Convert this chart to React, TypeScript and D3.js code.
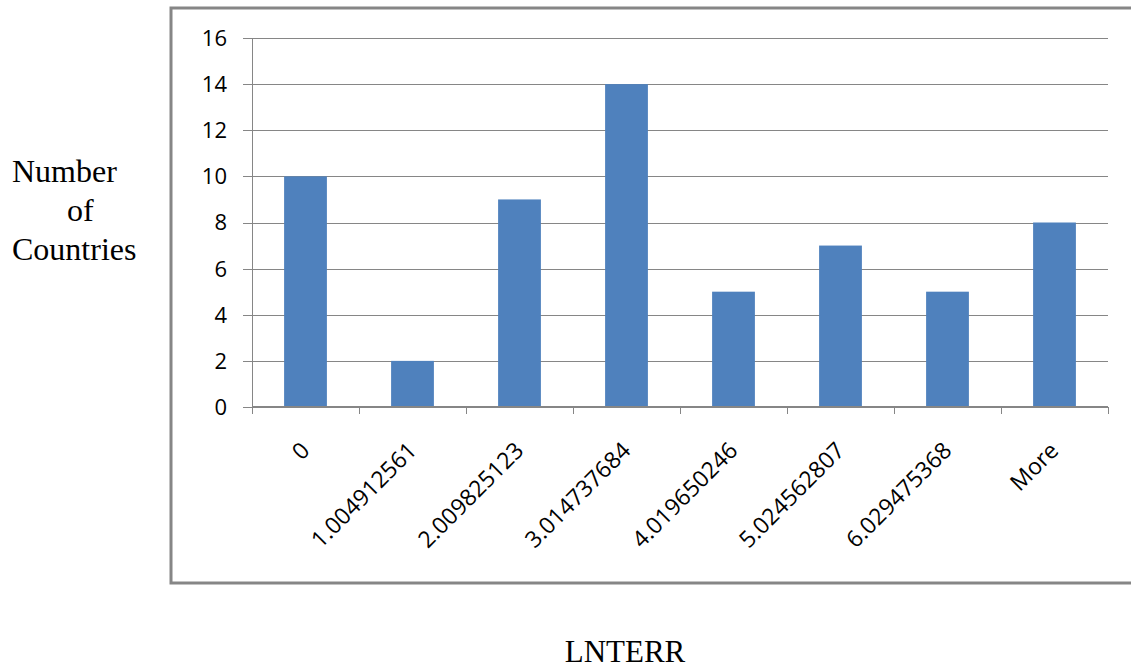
import React from "react";
import * as d3 from "d3";

// Histogram bins (upper bin edges) and the number of countries in each
const binLabels = [
  "0",
  "1.004912561",
  "2.009825123",
  "3.014737684",
  "4.019650246",
  "5.024562807",
  "6.029475368",
  "More",
];
const countryCounts = [10, 2, 9, 14, 5, 7, 5, 8];
const yTickValues = [0, 2, 4, 6, 8, 10, 12, 14, 16];

const W = 1131;
const H = 667;
const plot = { left: 252, right: 1108, top: 38, bottom: 407 };
const gridGray = "#868686";
const barBlue = "#4F81BD";
const tickFont = "'Open Sans', 'Liberation Sans', sans-serif";
const titleFont = "'Liberation Serif', 'Times New Roman', serif";

export default function App() {
  const x = d3
    .scaleBand<string>()
    .domain(binLabels)
    .range([plot.left, plot.right])
    .paddingInner(0.6)
    .paddingOuter(0.3);
  const y = d3.scaleLinear().domain([0, 16]).range([plot.bottom, plot.top]);
  const step = x.step();
  const boundaries = d3.range(binLabels.length + 1).map((i) => plot.left + i * step);

  return (
    <svg
      width={W}
      height={H}
      style={{ position: "absolute", left: 0, top: 0, display: "block", background: "#fff" }}
    >
      {/* chart frame */}
      <rect x={171} y={8} width={1000} height={575} fill="none" stroke={gridGray} strokeWidth={3} />

      {/* horizontal gridlines */}
      {yTickValues.map((v) => (
        <line
          key={"g" + v}
          x1={243}
          x2={plot.right}
          y1={Math.round(y(v)) + 0.5}
          y2={Math.round(y(v)) + 0.5}
          stroke={gridGray}
          strokeWidth={1}
        />
      ))}

      {/* bars */}
      {binLabels.map((b, i) => (
        <rect
          key={"b" + b}
          x={x(b)}
          y={y(countryCounts[i])}
          width={x.bandwidth()}
          height={y(0) - y(countryCounts[i])}
          fill={barBlue}
        />
      ))}

      {/* y axis line */}
      <line x1={plot.left + 0.5} x2={plot.left + 0.5} y1={plot.top} y2={plot.bottom + 7} stroke={gridGray} strokeWidth={1} />

      {/* x axis line and tick marks */}
      <line x1={plot.left} x2={plot.right} y1={plot.bottom} y2={plot.bottom} stroke={gridGray} strokeWidth={2} />
      {boundaries.map((bx, i) => (
        <line
          key={"t" + i}
          x1={Math.round(bx) + 0.5}
          x2={Math.round(bx) + 0.5}
          y1={plot.bottom}
          y2={plot.bottom + 7}
          stroke={gridGray}
          strokeWidth={1}
        />
      ))}

      {/* y tick labels */}
      {yTickValues.map((v) => (
        <text
          key={"yl" + v}
          x={227}
          y={y(v)}
          dy="0.36em"
          textAnchor="end"
          fontFamily={tickFont}
          fontSize={22}
          fill="#000"
        >
          {v}
        </text>
      ))}

      {/* x tick labels, rotated */}
      {binLabels.map((b) => {
        const cx = (x(b) as number) + x.bandwidth() / 2 + 5.5;
        return (
          <text
            key={"xl" + b}
            transform={`translate(${cx},452) rotate(-45)`}
            textAnchor="end"
            fontFamily={tickFont}
            fontSize={23}
            fill="#000"
          >
            {b}
          </text>
        );
      })}

      {/* y axis title */}
      <text fontFamily={titleFont} fontSize={32} fill="#000">
        <tspan x={12} y={182}>Number</tspan>
        <tspan x={67} y={221}>of</tspan>
        <tspan x={12} y={260}>Countries</tspan>
      </text>

      {/* x axis title */}
      <text x={625} y={662} textAnchor="middle" fontFamily={titleFont} fontSize={31} fill="#000">
        LNTERR
      </text>
    </svg>
  );
}
